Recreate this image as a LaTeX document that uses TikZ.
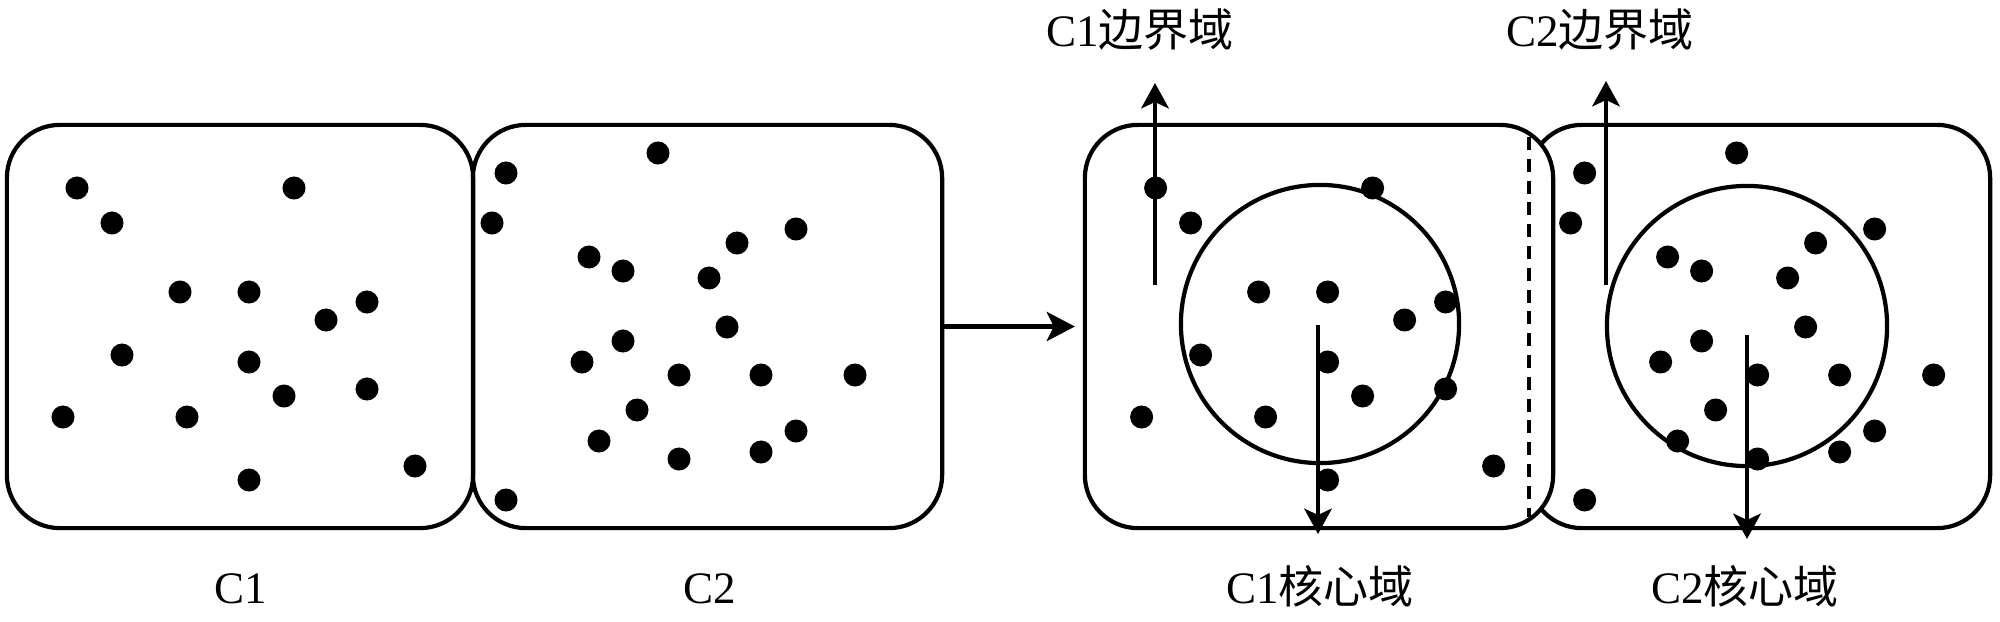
\documentclass[tikz,border=0pt]{standalone}
\usepackage{fontspec}
\setmainfont{Liberation Serif}
\newfontfamily\cjk{Noto Sans CJK SC}
\usetikzlibrary{arrows.meta}
\newcommand\dotsA{77/188,112/223,294/188,180/292,249/292,367/302,326/320,122/355,249/362,284/396,367/389,63/417,187/417,415/466,249/480}
\newcommand\dotsB{658/153,506/173,492/223,796/229,737/243,589/257,623/271,709/278,727/327,623/341,582/362,679/375,761/375,855/375,637/410,796/431,599/441,761/452,679/459,506/500}
\begin{document}
\begin{tikzpicture}[x=0.01cm,y=-0.01cm,
  box/.style={draw,line width=1.2pt,rounded corners=0.53cm,minimum height=4.03cm,inner sep=0,outer sep=0},
  arr/.style={line width=1.3pt,-{Stealth[length=7.2pt,width=7.8pt,inset=1.8pt]}},
  lbl/.style={anchor=base,inner sep=0,font=\fontsize{12.8pt}{15pt}\selectfont},
  core/.style={draw,circle,line width=1.2pt,inner sep=0}]
\useasboundingbox (0,0) rectangle (2000,621);
% left pair of clusters
\node[box,minimum width=4.66cm] (b1) at (240,326.5) {};
\node[box,minimum width=4.69cm] (b2) at (707.5,326.5) {};
% right pair of clusters (C2 behind C1)
\node[box,fill=white,minimum width=4.61cm] (b4) at (1759.5,326.5) {};
\node[box,fill=white,minimum width=4.68cm] (b3) at (1319,326.5) {};
\draw[line width=1.2pt,dash pattern=on 3.7pt off 2.5pt] (1529,137) -- (1529,517);
% core circles
\node[core,minimum size=2.78cm] (k1) at (1320,324) {};
\node[core,minimum size=2.80cm] (k2) at (1747,326) {};
% dots
\foreach \p/\q in \dotsA {
  \fill (\p,\q) circle[radius=0.115cm];
  \fill ([xshift=10.78cm]\p,\q) circle[radius=0.115cm];
}
\foreach \p/\q in \dotsB {
  \fill (\p,\q) circle[radius=0.115cm];
  \fill ([xshift=10.78cm]\p,\q) circle[radius=0.115cm];
}
% transition arrow
\draw[line width=1.2pt,-{Stealth[length=8pt,width=8.3pt,inset=2pt]},shorten >=0.1cm] (b2.east) -- (b3.west);
% labels
\node[lbl] (n1) at (241,603) {C1};
\node[lbl] (n2) at (710,603) {C2};
\node[lbl] (l1e) at (1140,47) {C1{\cjk 边界域}};
\node[lbl] (l2e) at (1600,47) {C2{\cjk 边界域}};
\node[lbl] (l1c) at (1320,603) {C1{\cjk 核心域}};
\node[lbl] (l2c) at (1745,603) {C2{\cjk 核心域}};
% region arrows
\coordinate (e1s) at (1155,285);
\coordinate (e1t) at (1155,83);
\coordinate (e2s) at (1606,285);
\coordinate (e2t) at (1606,81);
\coordinate (c1s) at (1318,325);
\coordinate (c1t) at (1318,534);
\coordinate (c2s) at (1747,335);
\coordinate (c2t) at (1747,539);
\draw[arr] (e1s) -- (e1t);
\draw[arr] (e2s) -- (e2t);
\draw[arr] (c1s) -- (c1t);
\draw[arr] (c2s) -- (c2t);
\end{tikzpicture}
\end{document}
